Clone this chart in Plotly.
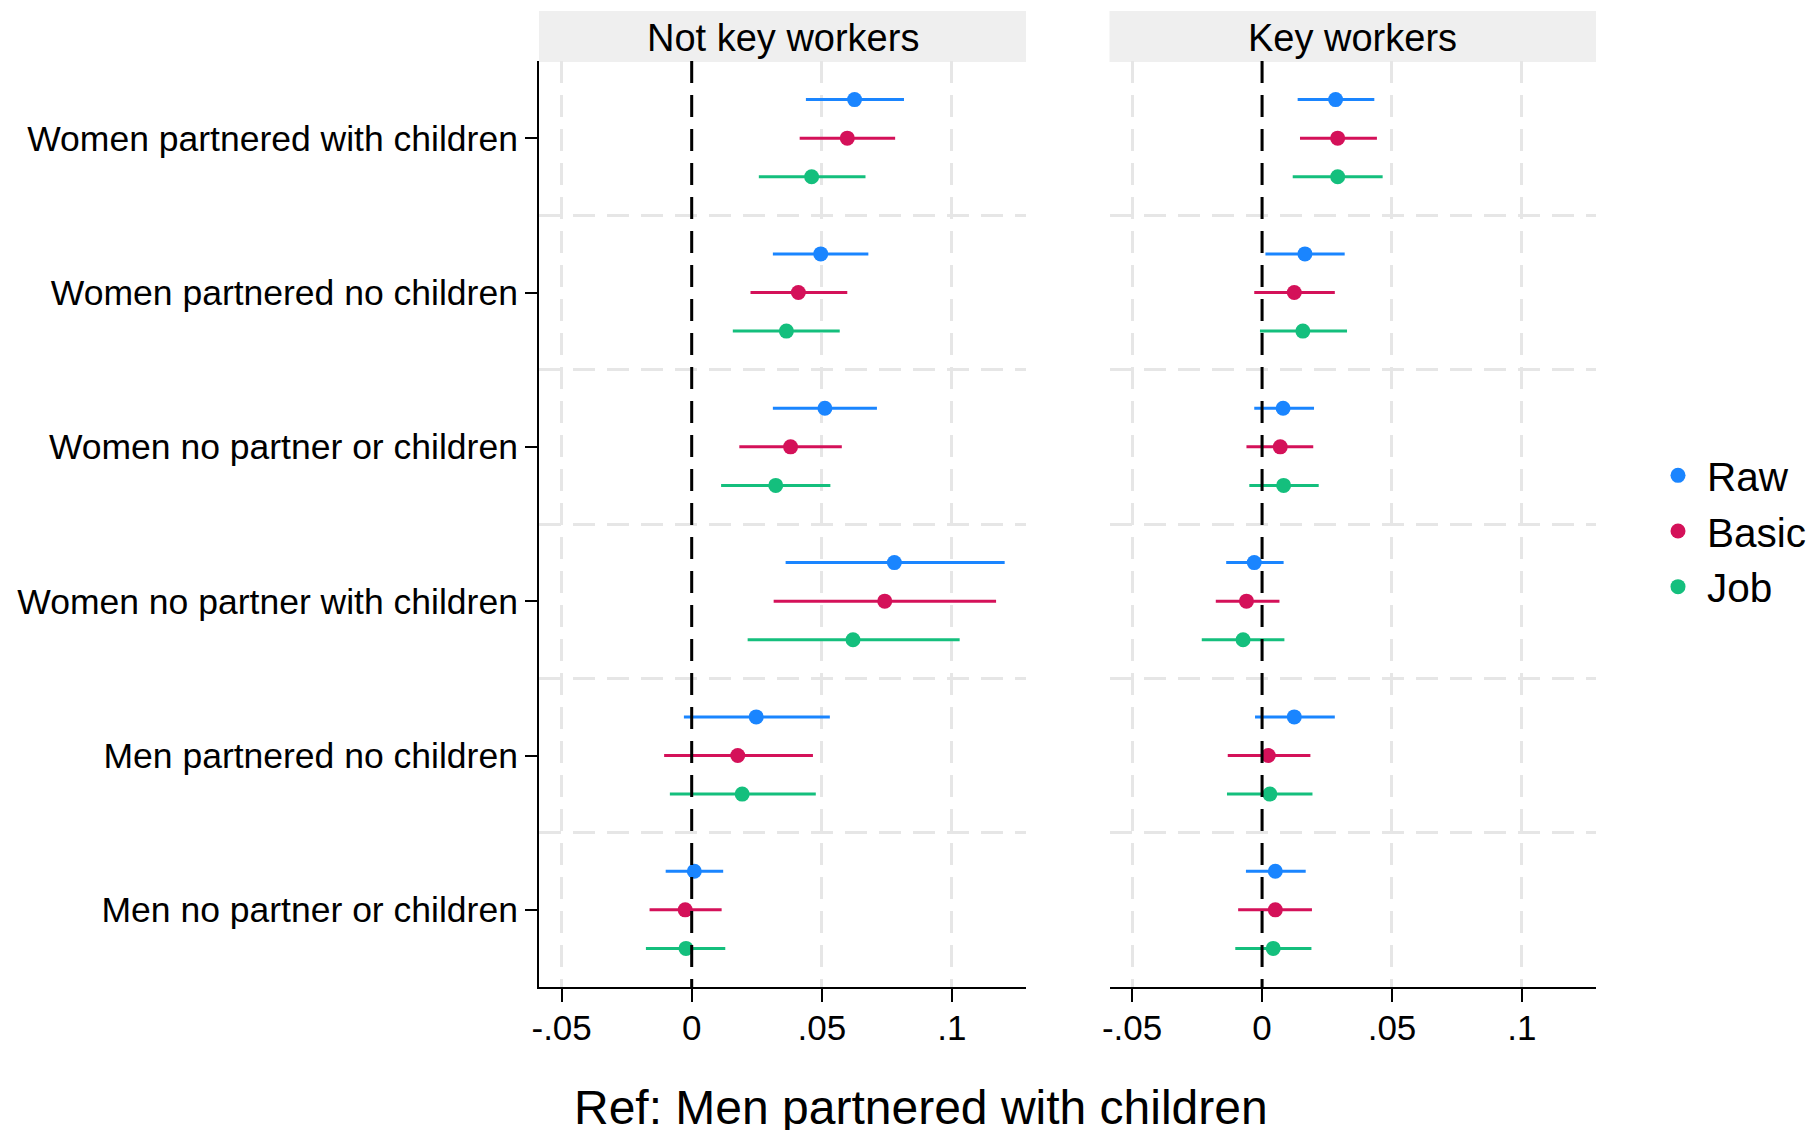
import plotly.graph_objects as go
from plotly.subplots import make_subplots

# Groups (top to bottom), reference group: men partnered with children
groups = [
    "Women partnered with children",
    "Women partnered no children",
    "Women no partner or children",
    "Women no partner with children",
    "Men partnered no children",
    "Men no partner or children",
]

panels = ["Not key workers", "Key workers"]
models = ["Raw", "Basic", "Job"]
colors = {"Raw": "#1a85ff", "Basic": "#d41159", "Job": "#14bf7d"}
offsets = {"Raw": -0.25, "Basic": 0.0, "Job": 0.25}

# Point estimates and 95% CI bounds, Not key workers
nkw_raw = [0.0626, 0.0496, 0.0512, 0.0779, 0.0248, 0.0010]
nkw_raw_lo = [0.0439, 0.0312, 0.0312, 0.0361, -0.0030, -0.0100]
nkw_raw_hi = [0.0816, 0.0679, 0.0712, 0.1203, 0.0531, 0.0121]

nkw_basic = [0.0598, 0.0410, 0.0380, 0.0742, 0.0177, -0.0025]
nkw_basic_lo = [0.0415, 0.0226, 0.0183, 0.0315, -0.0106, -0.0162]
nkw_basic_hi = [0.0782, 0.0598, 0.0577, 0.1170, 0.0466, 0.0115]

nkw_job = [0.0461, 0.0364, 0.0323, 0.0620, 0.0194, -0.0022]
nkw_job_lo = [0.0258, 0.0158, 0.0113, 0.0215, -0.0084, -0.0176]
nkw_job_hi = [0.0668, 0.0569, 0.0533, 0.1030, 0.0477, 0.0129]

# Key workers
kw_raw = [0.0283, 0.0165, 0.0081, -0.0030, 0.0124, 0.0051]
kw_raw_lo = [0.0137, 0.0013, -0.0030, -0.0138, -0.0027, -0.0062]
kw_raw_hi = [0.0432, 0.0318, 0.0200, 0.0083, 0.0280, 0.0168]

kw_basic = [0.0291, 0.0124, 0.0070, -0.0060, 0.0024, 0.0051]
kw_basic_lo = [0.0146, -0.0030, -0.0060, -0.0178, -0.0132, -0.0092]
kw_basic_hi = [0.0442, 0.0280, 0.0197, 0.0067, 0.0186, 0.0192]

kw_job = [0.0291, 0.0157, 0.0083, -0.0073, 0.0030, 0.0043]
kw_job_lo = [0.0118, -0.0008, -0.0049, -0.0232, -0.0135, -0.0103]
kw_job_hi = [0.0464, 0.0327, 0.0218, 0.0086, 0.0194, 0.0190]

x_tickvals = [-0.05, 0, 0.05, 0.1]
x_ticktext = ["-.05", "0", ".05", ".1"]

data = {
    "Not key workers": {
        "Raw": (nkw_raw, nkw_raw_lo, nkw_raw_hi),
        "Basic": (nkw_basic, nkw_basic_lo, nkw_basic_hi),
        "Job": (nkw_job, nkw_job_lo, nkw_job_hi),
    },
    "Key workers": {
        "Raw": (kw_raw, kw_raw_lo, kw_raw_hi),
        "Basic": (kw_basic, kw_basic_lo, kw_basic_hi),
        "Job": (kw_job, kw_job_lo, kw_job_hi),
    },
}

FONT = "Liberation Sans, Arial, sans-serif"
GRID = "#e6e6e6"

fig = make_subplots(rows=1, cols=2, shared_yaxes=True)

for col, panel in enumerate(panels, start=1):
    for m in models:
        est, lo, hi = data[panel][m]
        ypos = [i + 1 + offsets[m] for i in range(len(groups))]
        fig.add_trace(
            go.Scatter(
                x=est,
                y=ypos,
                mode="markers",
                name=m,
                legendgroup=m,
                showlegend=(col == 1),
                marker=dict(color=colors[m], size=15, line=dict(width=0)),
                error_x=dict(
                    type="data",
                    symmetric=False,
                    array=[h - e for h, e in zip(hi, est)],
                    arrayminus=[e - l for e, l in zip(est, lo)],
                    color=colors[m],
                    thickness=3,
                    width=0,
                ),
            ),
            row=1,
            col=col,
        )

xr = [-0.0587, 0.1285]
xaxis_common = dict(
    range=xr,
    tickvals=x_tickvals,
    ticktext=x_ticktext,
    showgrid=True,
    gridcolor=GRID,
    gridwidth=2.5,
    griddash="22px,12px",
    zeroline=False,
    showline=True,
    linecolor="black",
    linewidth=2,
    ticks="outside",
    ticklen=13,
    tickwidth=2,
    tickcolor="black",
    ticklabelstandoff=-4,
    tickfont=dict(family=FONT, size=35, color="black"),
)
fig.update_layout(
    xaxis=dict(domain=[539 / 1814, 1026 / 1814], **xaxis_common),
    xaxis2=dict(domain=[1109.5 / 1814, 1596 / 1814], **xaxis_common),
)

y_dom = [1 - 987 / 1132, 1 - 61 / 1132]
minor_grid = dict(
    tickvals=[1.5, 2.5, 3.5, 4.5, 5.5],
    showgrid=True,
    gridcolor=GRID,
    gridwidth=2.5,
    griddash="22px,12px",
    ticks="",
)
fig.update_layout(
    yaxis=dict(
        domain=y_dom,
        range=[6.5, 0.5],
        tickvals=list(range(1, len(groups) + 1)),
        ticktext=groups,
        showgrid=False,
        zeroline=False,
        showline=True,
        linecolor="black",
        linewidth=2,
        ticks="outside",
        ticklen=12,
        tickwidth=2,
        tickcolor="black",
        tickfont=dict(family=FONT, size=35.5, color="black"),
        minor=minor_grid,
    ),
    yaxis2=dict(
        domain=y_dom,
        range=[6.5, 0.5],
        tickvals=list(range(1, len(groups) + 1)),
        showticklabels=False,
        showgrid=False,
        zeroline=False,
        showline=False,
        ticks="",
        minor=minor_grid,
    ),
)

# Reference line at zero and panel header strips
for xa in ["x", "x2"]:
    fig.add_shape(
        type="line", xref=xa, yref="y domain", x0=0, x1=0, y0=1, y1=0,
        line=dict(color="black", width=3, dash="22px,12px"), layer="above",
    )
    fig.add_shape(
        type="rect", xref=f"{xa} domain", yref="paper",
        x0=0, x1=1, y0=1 - 62 / 1132, y1=1 - 11 / 1132,
        fillcolor="#efefef", line=dict(width=0), layer="below",
    )

for xa, panel in zip(["x", "x2"], panels):
    fig.add_annotation(
        xref=f"{xa} domain", yref="paper", x=0.5, y=1 - 38 / 1132,
        text=panel, showarrow=False, xanchor="center", yanchor="middle",
        font=dict(family=FONT, size=38, color="black"),
    )

fig.add_annotation(
    xref="paper", yref="paper", x=921 / 1814, y=0,
    text="Ref: Men partnered with children", showarrow=False,
    xanchor="center", yanchor="bottom", height=46, valign="middle",
    font=dict(family=FONT, size=48, color="black"),
)

fig.update_layout(
    width=1814,
    height=1132,
    margin=dict(l=0, r=0, t=0, b=0, autoexpand=False),
    paper_bgcolor="white",
    plot_bgcolor="white",
    showlegend=True,
    legend=dict(
        x=1649 / 1814, y=1 - 531 / 1132, xanchor="left", yanchor="middle",
        font=dict(family=FONT, size=40.5, color="black"),
        bgcolor="rgba(0,0,0,0)", tracegroupgap=0, itemwidth=48,
    ),
)

fig.write_html("out.html")
